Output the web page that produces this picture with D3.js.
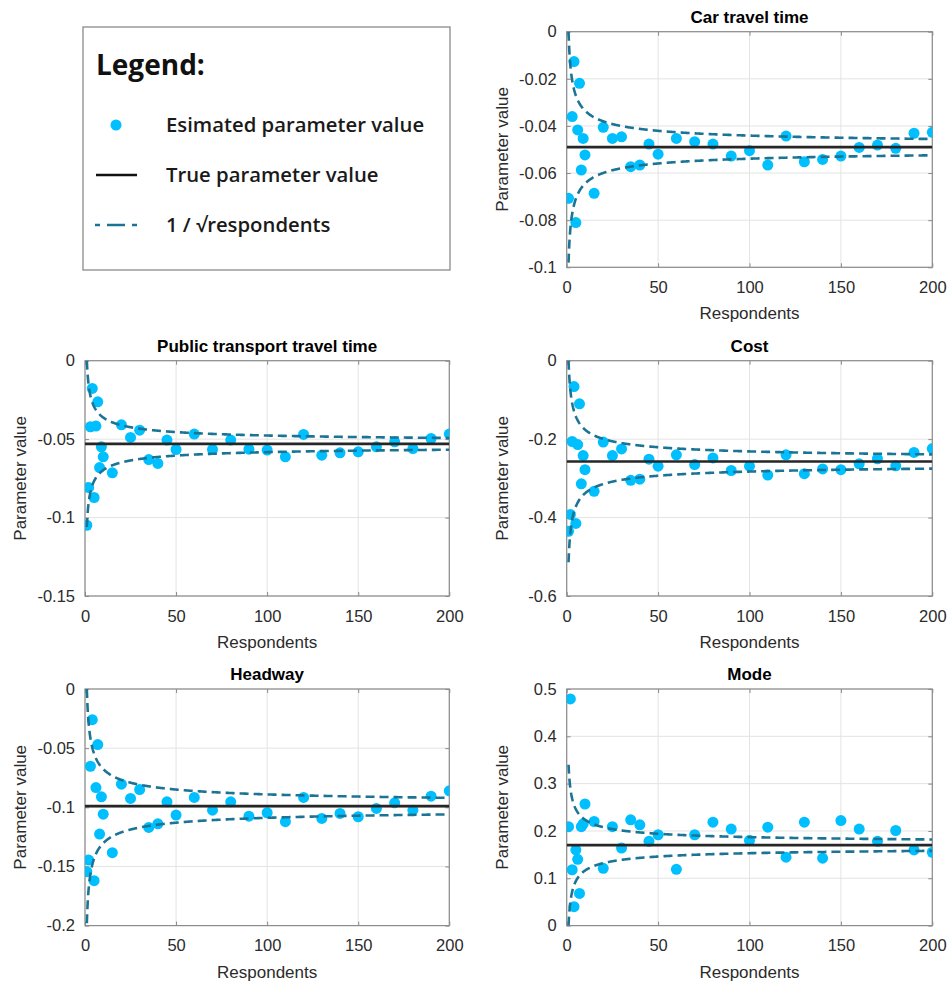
<!DOCTYPE html>
<html>
<head>
<meta charset="utf-8">
<script src="https://cdn.jsdelivr.net/npm/d3@7"></script>
<style>
  html, body { margin: 0; padding: 0; background: #fff; }
  svg { display: block; }
</style>
</head>
<body>
<svg id="chart" width="949" height="983"></svg>
<script>
// ---------------- DATA ----------------
const respondents = [1,2,3,4,5,6,7,8,9,10,15,20,25,30,35,40,45,50,60,70,80,90,100,110,120,130,140,150,160,170,180,190,200];

const carTravelTime = [-0.0707, null, -0.036, -0.0127, -0.081, -0.0417, -0.0219, -0.0587, -0.0453, -0.0523,
  -0.0686, -0.0406, -0.0453, -0.0446, -0.0573, -0.0566, -0.0477, -0.052,
  -0.0453, -0.0467, -0.0477, -0.0528, -0.0505, -0.0566, -0.0443, -0.0552, -0.0542, -0.0528, -0.0491, -0.0481, -0.0495, -0.0431, -0.0427];

const publicTransport = [-0.1049, -0.0809, -0.0421, -0.0177, -0.0872, -0.0417, -0.0262, -0.0681, -0.0549, -0.0613,
  -0.0715, -0.0409, -0.0489, -0.0443, -0.063, -0.0655, -0.0506, -0.0566,
  -0.0468, -0.0566, -0.0506, -0.0564, -0.057, -0.0613, -0.047, -0.0602, -0.0587, -0.0581, -0.0549, -0.0517, -0.056, -0.0496, -0.0468];

const cost = [-0.435, -0.392, -0.206, -0.066, -0.415, -0.214, -0.110, -0.314, -0.242, -0.278,
  -0.333, -0.2076, -0.242, -0.225, -0.305, -0.302, -0.251, -0.269,
  -0.240, -0.265, -0.248, -0.280, -0.269, -0.2915, -0.240, -0.288, -0.276, -0.278, -0.263, -0.250, -0.268, -0.234, -0.224];

const headway = [-0.1544, -0.1446, -0.0653, -0.0259, -0.162, -0.0833, -0.047, -0.1226, -0.0911, -0.1058,
  -0.1384, -0.0805, -0.0925, -0.085, -0.117, -0.114, -0.0954, -0.1066,
  -0.0917, -0.1024, -0.0954, -0.1075, -0.1046, -0.1122, -0.0917, -0.1094, -0.1052, -0.108, -0.101, -0.0962, -0.1024, -0.0906, -0.0861];

const mode = [0.209, 0.479, 0.118, 0.040, 0.160, 0.140, 0.068, 0.209, 0.215, 0.257,
  0.220, 0.121, 0.209, 0.164, 0.2236, 0.213, 0.178, 0.192,
  0.119, 0.192, 0.2186, 0.204, 0.180, 0.208, 0.1446, 0.2186, 0.1425, 0.222, 0.204, 0.178, 0.201, 0.160, 0.155];

const titles = ["Car travel time", "Public transport travel time", "Cost", "Headway", "Mode"];
const trueValues = [-0.049, -0.053, -0.257, -0.099, 0.17];
const yDomains = [[-0.1, 0], [-0.15, 0], [-0.6, 0], [-0.2, 0], [0, 0.5]];
const yTickValues = [
  [0, -0.02, -0.04, -0.06, -0.08, -0.1],
  [0, -0.05, -0.1, -0.15],
  [0, -0.2, -0.4, -0.6],
  [0, -0.05, -0.1, -0.15, -0.2],
  [0, 0.1, 0.2, 0.3, 0.4, 0.5]
];
const xTickValues = [0, 50, 100, 150, 200];
const seriesList = [carTravelTime, publicTransport, cost, headway, mode];

const legendLabels = ["Esimated parameter value", "True parameter value", "1 / \u221Arespondents"];

// ---------------- LAYOUT ----------------
const layout = [
  { left: 566.7, right: 932.3, top: 31.7, bottom: 267.3 },
  { left: 85,    right: 449.3, top: 360.7, bottom: 596 },
  { left: 566.7, right: 932.3, top: 360.7, bottom: 596 },
  { left: 85,    right: 449.3, top: 689, bottom: 925.6 },
  { left: 566.7, right: 932.3, top: 689, bottom: 925.6 }
];

const DOT = "#00bfff";
const DASH = "#1c7494";
const TRUE_C = "#262626";
const TICK_C = "#2b2b2b";
const FONT = "'Liberation Sans', Arial, Helvetica, sans-serif";

const svg = d3.select("#chart");
const fmt = v => String(v);

seriesList.forEach((series, i) => {
  const L = layout[i];
  const x = d3.scaleLinear().domain([0, 200]).range([L.left, L.right]);
  const y = d3.scaleLinear().domain(yDomains[i]).range([L.bottom, L.top]);
  const g = svg.append("g");
  const w = L.right - L.left, h = L.bottom - L.top;

  const clipId = "clip" + i;
  g.append("clipPath").attr("id", clipId)
    .append("rect").attr("x", L.left).attr("y", L.top).attr("width", w).attr("height", h);

  // grid
  g.append("g").selectAll("line").data(xTickValues).join("line")
    .attr("x1", d => x(d)).attr("x2", d => x(d)).attr("y1", L.top).attr("y2", L.bottom)
    .attr("stroke", "#e3e3e3").attr("stroke-width", 1);
  g.append("g").selectAll("line").data(yTickValues[i]).join("line")
    .attr("x1", L.left).attr("x2", L.right).attr("y1", d => y(d)).attr("y2", d => y(d))
    .attr("stroke", "#e3e3e3").attr("stroke-width", 1);

  // axes (d3 axes, inward ticks)
  const yAxis = d3.axisLeft(y).tickValues(yTickValues[i]).tickFormat(fmt).tickSizeInner(-4).tickSizeOuter(0).tickPadding(10);
  const xAxis = d3.axisBottom(x).tickValues(xTickValues).tickFormat(fmt).tickSizeInner(-4).tickSizeOuter(0).tickPadding(14);
  const ya = g.append("g").attr("transform", `translate(${L.left},0)`).call(yAxis);
  const xa = g.append("g").attr("transform", `translate(0,${L.bottom})`).call(xAxis);
  g.append("g").attr("transform", `translate(${L.right},0)`)
    .call(d3.axisRight(y).tickValues(yTickValues[i]).tickFormat("").tickSizeInner(-4).tickSizeOuter(0));
  g.append("g").attr("transform", `translate(0,${L.top})`)
    .call(d3.axisTop(x).tickValues(xTickValues).tickFormat("").tickSizeInner(-4).tickSizeOuter(0));
  g.selectAll(".domain").remove();
  g.selectAll(".tick line").attr("stroke", "#8a8a8a");
  [ya, xa].forEach(a => a.selectAll("text")
    .attr("font-family", FONT).attr("font-size", 16.5).attr("fill", TICK_C));

  // box
  g.append("rect").attr("x", L.left).attr("y", L.top).attr("width", w).attr("height", h)
    .attr("fill", "none").attr("stroke", "#8c8c8c").attr("stroke-width", 1.2);

  const plot = g.append("g").attr("clip-path", `url(#${clipId})`);

  // estimated values
  const pts = respondents.map((n, k) => ({ n, v: series[k] })).filter(d => d.v !== null);
  plot.selectAll("circle").data(pts).join("circle")
    .attr("cx", d => x(d.n)).attr("cy", d => y(d.v)).attr("r", 5.5)
    .attr("fill", DOT);

  // true value
  plot.append("line").attr("x1", x(0)).attr("x2", x(200))
    .attr("y1", y(trueValues[i])).attr("y2", y(trueValues[i]))
    .attr("stroke", TRUE_C).attr("stroke-width", 2.6);

  // 1/sqrt(respondents) bands around the true value (curve defined by the legend)
  const nGrid = d3.range(1, 200.01, 0.25);
  [1, -1].forEach(sgn => {
    const line = d3.line().x(n => x(n)).y(n => y(trueValues[i] * (1 + sgn / Math.sqrt(n))));
    plot.append("path").datum(nGrid).attr("d", line)
      .attr("fill", "none").attr("stroke", DASH).attr("stroke-width", 2.6)
      .attr("stroke-dasharray", "9,5");
  });

  // title
  g.append("text").attr("x", (L.left + L.right) / 2).attr("y", L.top - 9)
    .attr("text-anchor", "middle").attr("font-family", FONT).attr("font-weight", "bold")
    .attr("font-size", 17).attr("fill", "#000").text(titles[i]);
  // x label
  g.append("text").attr("x", (L.left + L.right) / 2).attr("y", L.bottom + 52)
    .attr("text-anchor", "middle").attr("font-family", FONT)
    .attr("font-size", 17).attr("fill", TICK_C).text("Respondents");
  // y label
  g.append("text")
    .attr("transform", `translate(${L.left - 59},${(L.top + L.bottom) / 2}) rotate(-90)`)
    .attr("text-anchor", "middle").attr("font-family", FONT)
    .attr("font-size", 17).attr("fill", TICK_C).text("Parameter value");
});

// ---------------- LEGEND ----------------
const LF = "'Open Sans', 'Noto Sans', sans-serif";
const lg = svg.append("g");
lg.append("rect").attr("x", 83).attr("y", 27).attr("width", 367).attr("height", 243)
  .attr("fill", "#fff").attr("stroke", "#8a8a8a").attr("stroke-width", 1.3);
lg.append("text").attr("x", 96).attr("y", 75).attr("font-family", LF).attr("font-weight", 700)
  .attr("font-size", 28).attr("fill", "#111").text("Legend:");
lg.append("circle").attr("cx", 116).attr("cy", 125).attr("r", 5.5).attr("fill", DOT);
lg.append("line").attr("x1", 96).attr("x2", 137).attr("y1", 175).attr("y2", 175)
  .attr("stroke", "#111").attr("stroke-width", 2.4);
lg.append("line").attr("x1", 95).attr("x2", 138).attr("y1", 225).attr("y2", 225)
  .attr("stroke", DASH).attr("stroke-width", 2.4).attr("stroke-dasharray", "5,7,18,7");
const rows = [125, 175, 225];
legendLabels.forEach((t, k) => {
  lg.append("text").attr("x", 166).attr("y", rows[k]).attr("dy", "0.35em")
    .attr("font-family", LF).attr("font-weight", 600).attr("font-size", 20.3)
    .attr("fill", "#1a1a1a").text(t);
});
</script>
</body>
</html>
